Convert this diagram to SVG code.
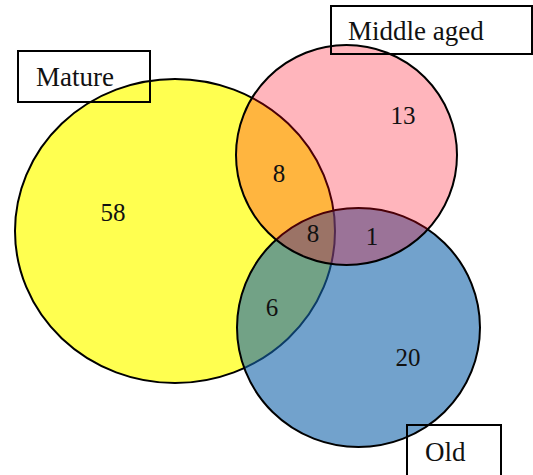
<svg xmlns="http://www.w3.org/2000/svg" width="533" height="475" viewBox="0 0 533 475">
<style>
.c{stroke:#000;stroke-width:2}
.box{fill:none;stroke:#000;stroke-width:2}
.lbl{font-family:"Liberation Serif","Times New Roman",serif;font-size:27px;fill:#111}
.num{font-family:"Liberation Serif","Times New Roman",serif;font-size:25px;fill:#111;text-anchor:middle}
</style>
<rect width="533" height="475" fill="#fff"/>
<g id="mature-circle"><ellipse class="c" cx="175" cy="231" rx="160" ry="152" fill="#ffff50"/></g>
<g id="old-circle"><ellipse class="c" cx="358.5" cy="327.5" rx="121.5" ry="119.5" fill="rgb(20,100,170)" fill-opacity="0.6"/></g>
<g id="middle-circle"><ellipse class="c" cx="346.5" cy="155" rx="110.5" ry="110" fill="rgb(255,0,25)" fill-opacity="0.29"/></g>
<g id="mature-label"><rect class="box" x="18" y="51" width="132" height="51"/><text class="lbl" x="36" y="86">Mature</text></g>
<g id="middle-label"><rect class="box" x="331" y="6" width="201" height="48"/><text class="lbl" x="348" y="40">Middle aged</text></g>
<g id="old-label"><rect class="box" x="407" y="425" width="94" height="55"/><text class="lbl" x="425" y="461">Old</text></g>
<g id="counts">
<text class="num" x="113" y="221">58</text>
<text class="num" x="403" y="124">13</text>
<text class="num" x="279" y="182">8</text>
<text class="num" x="313" y="242">8</text>
<text class="num" x="372" y="245">1</text>
<text class="num" x="272" y="316">6</text>
<text class="num" x="408" y="366">20</text>
</g>
<g id="connectors"></g>
</svg>
